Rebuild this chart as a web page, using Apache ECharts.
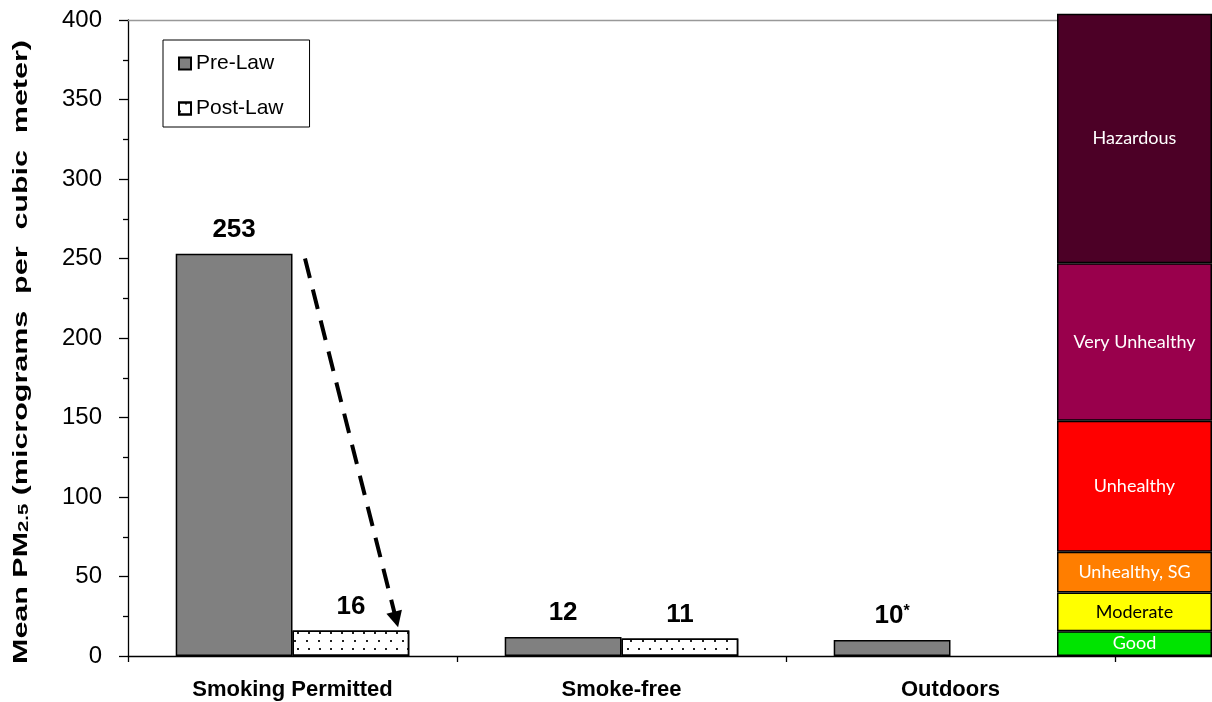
<!DOCTYPE html>
<html>
<head>
<meta charset="utf-8">
<script src="https://cdn.jsdelivr.net/npm/echarts@6/dist/echarts.min.js"></script>
<style>
  html, body { margin: 0; padding: 0; background: #fff; }
  #chart { width: 1212px; height: 702px; }
</style>
</head>
<body>
<div id="chart"></div>
<script>
// Venue types (the fourth slot is left unlabeled; the AQI scale sits over it)
const categories = ['Smoking Permitted', 'Smoke-free', 'Outdoors', ''];
// Mean PM2.5, micrograms per cubic meter
const preLaw = [253, 12, 10, null];
const postLaw = [16, 11, null, null];
// Footnote marks printed after a value
const preLawNotes = ['', '', '*', ''];
const postLawNotes = ['', '', '', ''];

// Air Quality Index bands and their upper limits (µg/m³)
const aqiBands = ['Good', 'Moderate', 'Unhealthy, SG', 'Unhealthy', 'Very Unhealthy', 'Hazardous'];
const aqiUpper = [15.5, 40, 65.5, 148, 247, 404];
const aqiColors = ['#00E400', '#FFFF00', '#FF7E00', '#FF0000', '#99004C', '#4C0026'];
const aqiTextColors = ['#fff', '#000', '#fff', '#fff', '#fff', '#fff'];

// Dashed arrow from the pre-law to the post-law bar: [category units, µg/m³]
const arrowStart = [0.538, 250];
const arrowEnd = [0.815, 23];

const yTitle = 'Mean PM{sub|2.5} (micrograms  per  cubic  meter)';

const FONT = '"Liberation Sans", Arial, Helvetica, sans-serif';
const bandStart = aqiUpper.map((v, i) => (i ? aqiUpper[i - 1] : 0));

function valueLabel(notes) {
  return function (p) {
    if (p.value == null) return '';
    const note = notes[p.dataIndex];
    return note ? '{v|' + p.value + '}{s|' + note + '}' : '{v|' + p.value + '}';
  };
}
const labelRich = {
  v: { fontSize: 26, fontWeight: 'bold', color: '#000', fontFamily: FONT },
  s: { fontSize: 16, fontWeight: 'bold', color: '#000', fontFamily: FONT, verticalAlign: 'top' }
};

const chart = echarts.init(document.getElementById('chart'), null, { renderer: 'canvas' });

const series = [
  {
    name: 'Pre-Law',
    type: 'bar',
    xAxisIndex: 0, yAxisIndex: 0,
    data: preLaw,
    barGap: '0%',
    barCategoryGap: '29%',
    itemStyle: { color: '#808080', borderColor: '#000', borderWidth: 1.5 },
    label: { show: true, position: 'top', distance: 11, formatter: valueLabel(preLawNotes), rich: labelRich },
    silent: true
  },
  {
    name: 'Post-Law',
    type: 'bar',
    xAxisIndex: 0, yAxisIndex: 0,
    data: postLaw,
    itemStyle: {
      color: '#fff', borderColor: '#000', borderWidth: 1.5,
      decal: {
        symbol: 'rect', symbolSize: 1, color: '#222',
        dashArrayX: [[2, 9], [0, 5.5, 2, 3.5]],
        dashArrayY: [2, 6],
        rotation: 0
      }
    },
    label: { show: true, position: 'top', distance: 11, formatter: valueLabel(postLawNotes), rich: labelRich },
    silent: true
  },
  {
    name: 'arrow',
    type: 'line',
    xAxisIndex: 1, yAxisIndex: 0,
    data: [],
    silent: true,
    markLine: {
      silent: true,
      animation: false,
      symbol: ['none', 'triangle'],
      symbolSize: 16,
      label: { show: false },
      lineStyle: { color: '#000', width: 4, type: [20, 12] },
      data: [[{ coord: arrowStart }, { coord: arrowEnd }]]
    }
  }
];

aqiBands.forEach((band, i) => {
  series.push({
    name: band,
    type: 'bar',
    xAxisIndex: 2, yAxisIndex: 1,
    stack: 'aqi',
    barWidth: '100%',
    clip: false,
    z: 5,
    silent: true,
    data: [aqiUpper[i] - bandStart[i]],
    itemStyle: { color: aqiColors[i], borderColor: '#000', borderWidth: 1.5 },
    label: {
      show: true, position: 'inside', formatter: band,
      color: aqiTextColors[i], fontSize: 18, fontFamily: 'Lato, "Open Sans", sans-serif'
    }
  });
});

const option = {
  animation: false,
  textStyle: { fontFamily: FONT },
  grid: [
    { left: 128, top: 20, bottom: 46, width: 1316, outerBoundsMode: 'none', containLabel: false },
    { left: 1057, top: 20, bottom: 46, right: 0, outerBoundsMode: 'none' }
  ],
  legend: {
    data: ['Pre-Law', 'Post-Law'],
    orient: 'vertical',
    left: 163, top: 40,
    padding: [13, 26, 8, 15],
    itemGap: 24,
    itemWidth: 12, itemHeight: 12,
    icon: 'rect',
    borderColor: '#000', borderWidth: 1,
    backgroundColor: '#fff',
    textStyle: { fontSize: 21, color: '#000', fontFamily: FONT },
    selectedMode: false
  },
  xAxis: [
    {
      type: 'category', gridIndex: 0, data: categories,
      axisLine: { lineStyle: { color: '#000', width: 1.3 } },
      axisTick: { show: true, length: 6, lineStyle: { color: '#000', width: 1.3 } },
      axisLabel: { fontSize: 22, fontWeight: 'bold', color: '#000', margin: 23, interval: 0 }
    },
    {
      type: 'value', gridIndex: 0, min: 0, max: 4, position: 'top',
      axisLine: { show: true, onZero: false, lineStyle: { color: '#999', width: 1.3 } },
      axisTick: { show: false }, axisLabel: { show: false }, splitLine: { show: false }
    },
    { type: 'category', gridIndex: 1, data: ['AQI'], show: false }
  ],
  yAxis: [
    {
      type: 'value', gridIndex: 0, min: 0, max: 400, interval: 50,
      axisLine: { show: true, lineStyle: { color: '#000', width: 1.3 } },
      axisTick: { show: true, length: 9, lineStyle: { color: '#000', width: 1.3 } },
      minorTick: { show: true, splitNumber: 2, length: 5, lineStyle: { color: '#000', width: 1.3 } },
      splitLine: { show: false },
      axisLabel: { fontSize: 24, color: '#000', margin: 26 }
    },
    { type: 'value', gridIndex: 1, min: 0, max: 400, show: false }
  ],
  // Axis title, drawn elongated along its reading direction
  graphic: [{
    type: 'text',
    x: 21, y: 352,
    rotation: Math.PI / 2,
    scaleX: 1.45, scaleY: 1,
    silent: true,
    style: {
      text: yTitle,
      align: 'center', verticalAlign: 'middle',
      fontSize: 21, fontWeight: 'bold', fontFamily: FONT, fill: '#000',
      rich: { sub: { fontSize: 14, fontWeight: 'bold', fontFamily: FONT, fill: '#000', verticalAlign: 'bottom' } }
    }
  }],
  series: series
};

chart.setOption(option);
</script>
</body>
</html>
